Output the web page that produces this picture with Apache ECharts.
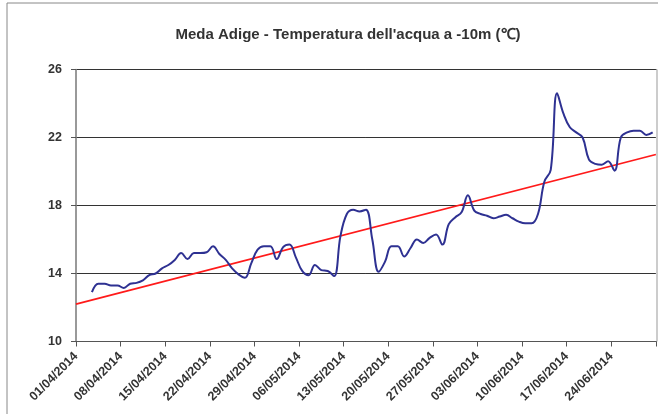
<!DOCTYPE html>
<html>
<head>
<meta charset="utf-8">
<script src="https://cdn.jsdelivr.net/npm/echarts@6/dist/echarts.min.js"></script>
<style>
  html, body { margin: 0; padding: 0; background: #fff; }
  #chart { width: 658px; height: 414px; }
</style>
</head>
<body>
<div id="chart"></div>
<script>
// giorni contati dal 01/04/2014 (0 = 01/04)
const firstDay = 2;
const temperature = [
  12.9, 13.4, 13.4, 13.3, 13.3, 13.15, 13.4, 13.45, 13.6, 13.9,
  14.0, 14.3, 14.5, 14.8, 15.2, 14.85, 15.2, 15.2, 15.25, 15.6,
  15.15, 14.8, 14.3, 13.95, 13.75, 14.6, 15.4, 15.6, 15.6, 14.85,
  15.55, 15.7, 14.95, 14.15, 13.9, 14.5, 14.2, 14.15, 13.85, 16.2,
  17.5, 17.75, 17.65, 17.75, 16.0, 14.1, 14.7, 15.6, 15.6, 15.0,
  15.5, 16.0, 15.8, 16.1, 16.3, 15.7, 16.9, 17.3, 17.6, 18.6,
  17.7, 17.5, 17.4, 17.25, 17.35, 17.45, 17.25, 17.05, 16.95, 16.95,
  17.5, 19.4, 20.1, 24.6, 23.4, 22.6, 22.3, 22.0, 20.7, 20.45,
  20.4, 20.6, 20.05, 22.0, 22.3, 22.4, 22.4, 22.15, 22.3
];
// linea di tendenza (inizio e fine asse)
const trendDays = [0, 91];
const trendValues = [12.2, 21.0];
const dateLabels = [
  '01/04/2014', '08/04/2014', '15/04/2014', '22/04/2014', '29/04/2014',
  '06/05/2014', '13/05/2014', '20/05/2014', '27/05/2014', '03/06/2014',
  '10/06/2014', '17/06/2014', '24/06/2014'
];
const yTicks = [10, 14, 18, 22, 26];

const chart = echarts.init(document.getElementById('chart'));

const tempData = temperature.map((v, i) => [firstDay + i + 0.5, v]);
const trendData = trendDays.map((d, i) => [d, trendValues[i]]);

chart.setOption({
  backgroundColor: '#fff',
  animation: false,
  title: {
    text: "Meda Adige - Temperatura dell'acqua a -10m (\u2103)",
    left: 343,
    textAlign: 'center',
    top: 22,
    textStyle: {
      fontFamily: 'Liberation Sans, Arial',
      fontSize: 15,
      fontWeight: 'bold',
      color: '#333'
    }
  },
  graphic: [{
    type: 'rect',
    shape: { x: 7, y: 3, width: 700, height: 500 },
    style: { fill: 'none', stroke: '#888', lineWidth: 1 },
    silent: true
  }, {
    type: 'rect',
    shape: { x: 76, y: 69.5, width: 581, height: 272 },
    style: { fill: 'none', stroke: '#999', lineWidth: 1 },
    silent: true,
    z: -1
  }],
  grid: {
    left: 76,
    right: 1,
    top: 69.5,
    bottom: 72.5,
    containLabel: false
  },
  xAxis: {
    type: 'value',
    min: 0,
    max: 91,
    interval: 7,
    axisLine: { show: true, onZero: false, lineStyle: { color: '#555', width: 1 } },
    axisTick: { show: true, length: 5, lineStyle: { color: '#555' } },
    splitLine: { show: false },
    axisLabel: {
      rotate: 45,
      margin: 13,
      fontFamily: 'Liberation Sans, Arial',
      fontSize: 12.5,
      fontWeight: 'bold',
      color: '#333',
      formatter: v => dateLabels[v / 7] || ''
    }
  },
  yAxis: {
    type: 'value',
    min: yTicks[0],
    max: yTicks[yTicks.length - 1],
    interval: 4,
    axisLine: { show: true, lineStyle: { color: '#888', width: 1.5 } },
    axisTick: { show: true, length: 5, lineStyle: { color: '#555' } },
    splitLine: { show: true, lineStyle: { color: '#333', width: 1 } },
    axisLabel: {
      margin: 14,
      fontFamily: 'Liberation Sans, Arial',
      fontSize: 12.5,
      fontWeight: 'bold',
      color: '#333'
    }
  },
  series: [{
    name: 'Temperatura',
    type: 'line',
    data: tempData,
    smooth: 0.4,
    showSymbol: false,
    lineStyle: { color: '#2E3192', width: 2 },
    z: 3
  }, {
    name: 'Tendenza',
    type: 'line',
    data: trendData,
    showSymbol: false,
    lineStyle: { color: '#FF1A1A', width: 1.8 },
    z: 2
  }]
});
</script>
</body>
</html>
